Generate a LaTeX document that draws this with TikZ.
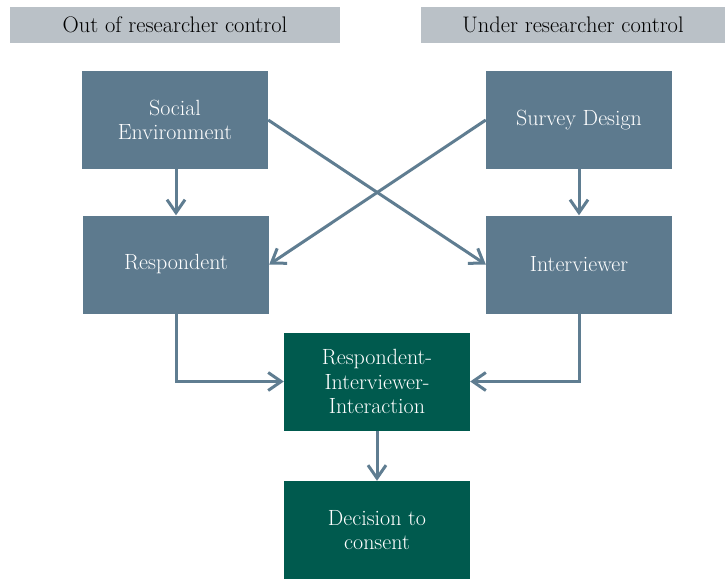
\documentclass[tikz,border=0pt]{standalone}
\usetikzlibrary{arrows.meta}
\definecolor{boxblue}{HTML}{5D7A8E}
\definecolor{boxgreen}{HTML}{005A4E}
\definecolor{headgray}{HTML}{BAC1C7}
\definecolor{arrowcol}{HTML}{5F7D91}
\tikzset{
  header/.style={fill=headgray, minimum height=36pt, inner sep=0pt, font=\fontsize{22.5}{25}\selectfont, text=black},
  bluebox/.style={fill=boxblue, minimum width=186pt, minimum height=98pt, inner sep=0pt, align=center, text=white, font=\fontsize{22}{24.5}\selectfont},
  greenbox/.style={bluebox, fill=boxgreen},
  conn/.style={draw=arrowcol, line width=3pt, -{Straight Barb[length=13pt,width=18pt]}}
}
\begin{document}
\begin{tikzpicture}[x=1pt,y=-1pt]
\useasboundingbox (0,0) rectangle (725,579);
\node[header, minimum width=330pt] (h1) at (175,25) {Out of researcher control};
\node[header, minimum width=304pt] (h2) at (573,25) {Under researcher control};
\node[bluebox] (se) at (175,120) {Social\\Environment};
\node[bluebox] (sd) at (579,120) {Survey Design};
\node[bluebox] (re) at (176,264.5) {Respondent};
\node[bluebox] (iv) at (579,264.5) {Interviewer};
\node[greenbox] (ri) at (377,381.5) {Respondent-\\Interviewer-\\Interaction};
\node[greenbox] (dc) at (377,530) {Decision to\\consent};
\draw[conn] (se.south -| re) -- (re.north);
\draw[conn] (sd.south) -- (iv.north);
\draw[conn] (se.east) -- (iv.west);
\draw[conn] (sd.west) -- (re.east);
\draw[conn] (re.south) |- (ri.west);
\draw[conn] (iv.south) |- (ri.east);
\draw[conn] (ri.south) -- (dc.north);
\end{tikzpicture}
\end{document}
